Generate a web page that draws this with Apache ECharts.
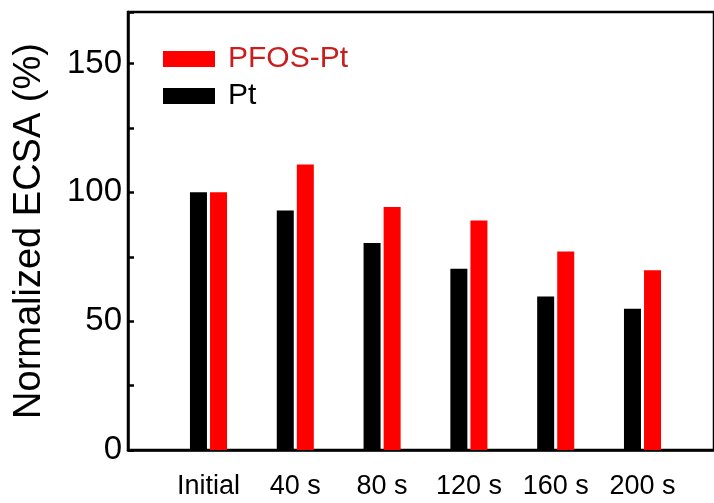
<!DOCTYPE html>
<html>
<head>
<meta charset="utf-8">
<script src="https://cdn.jsdelivr.net/npm/echarts@6/dist/echarts.min.js"></script>
<style>html,body{margin:0;padding:0;background:#fff}#c{width:714px;height:503px}</style>
</head>
<body>
<div id="c"></div>
<script>
var categories = ['Initial', '40 s', '80 s', '120 s', '160 s', '200 s'];
var ptValues = [100, 93, 80.3, 70.3, 59.6, 54.8];
var pfosValues = [100, 110.8, 94.3, 89.1, 77, 69.8];
var yLabelValues = [0, 50, 100, 150];

var FONT = '"Liberation Sans", Arial, sans-serif';
var chart = echarts.init(document.getElementById('c'), null, {renderer: 'canvas'});
chart.setOption({
  animation: false,
  backgroundColor: '#fff',
  grid: [
    {left: 128, top: 12, right: -30, bottom: 53, show: true, borderColor: '#000', borderWidth: 2.5, backgroundColor: 'transparent'},
    {left: 165.1, width: 520.8, top: 12, bottom: 53}
  ],
  legend: {
    data: [{name: 'PFOS-Pt', textStyle: {color: '#c81e1e'}}, {name: 'Pt'}],
    orient: 'vertical', left: 163, top: 44, padding: 0,
    itemWidth: 52, itemHeight: 16, itemGap: 7, icon: 'rect',
    textStyle: {fontSize: 30, fontFamily: FONT, color: '#000', lineHeight: 30, padding: [0, 0, 0, 8]}
  },
  xAxis: [
    {gridIndex: 0, type: 'value', min: 0, max: 1,
     axisLine: {show: true, lineStyle: {color: '#000', width: 2.5}},
     axisTick: {show: false}, axisLabel: {show: false}, splitLine: {show: false}},
    {gridIndex: 1, type: 'category', data: categories,
     axisLine: {show: false}, axisTick: {show: false},
     axisLabel: {fontSize: 27, fontFamily: FONT, color: '#000', margin: 23, interval: 0}}
  ],
  yAxis: [
    {gridIndex: 0, type: 'value', min: 0, max: 170, interval: 25,
     axisLine: {show: true, lineStyle: {color: '#000', width: 2.5}},
     axisTick: {show: true, inside: true, length: 6, lineStyle: {color: '#000', width: 2.5}},
     axisLabel: {fontSize: 33, fontFamily: FONT, color: '#000', margin: 6,
       formatter: function (v) { return yLabelValues.indexOf(v) >= 0 ? String(v) : ''; }},
     splitLine: {show: false},
     name: 'Normalized ECSA (%)', nameLocation: 'middle', nameGap: 79,
     nameTextStyle: {fontSize: 38, fontFamily: FONT, color: '#000'}},
    {gridIndex: 1, type: 'value', min: 0, max: 170, show: false}
  ],
  series: [
    {name: 'Pt', type: 'bar', xAxisIndex: 1, yAxisIndex: 1, data: ptValues,
     barWidth: 17, barGap: '18%', itemStyle: {color: '#000'}},
    {name: 'PFOS-Pt', type: 'bar', xAxisIndex: 1, yAxisIndex: 1, data: pfosValues,
     barWidth: 17, barGap: '18%', itemStyle: {color: '#ff0000'}}
  ]
});
</script>
</body>
</html>
